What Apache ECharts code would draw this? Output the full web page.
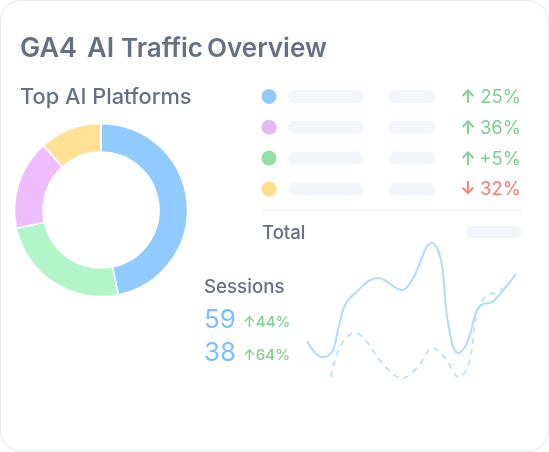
<!DOCTYPE html>
<html>
<head>
<meta charset="utf-8">
<style>html,body{margin:0;padding:0;background:#fff}#main{width:549px;height:452px}</style>
<script src="https://cdn.jsdelivr.net/npm/echarts@6/dist/echarts.min.js"></script>
</head>
<body>
<div id="main"></div>
<script>
var platforms = ['Platform A', 'Platform B', 'Platform C', 'Platform D'];
var platformShare = [46.8, 24.8, 16.8, 11.6];
var sliceColors = ['#90CAFF', '#B1F5C9', '#EFBDFD', '#FFE195'];
var dotColors = ['#90CAFF', '#E3B8FB', '#94DFA6', '#FFDF8E'];
var changeLabels = ['25%', '36%', '+5%', '32%'];
var changeArrows = ['↑', '↑', '↑', '↓'];
var changeColors = ['#7ACF8E', '#7ACF8E', '#7ACF8E', '#FA7B73'];
var sessionValues = ['59', '38'];
var sessionChanges = ['↑44%', '↑64%'];
// x / y, in chart units
var solidLine = [[7, 59], [22, 43], [32, 48], [38, 70], [45, 95], [53, 105], [78, 122], [102, 110], [112, 120], [132, 157], [141, 140], [148, 77], [158, 47], [167, 57], [177, 90], [183, 96], [192, 98], [205, 112], [216, 126]];
var dashedLine = [[31, 23], [40, 53], [55, 67], [67, 58], [82, 37], [102, 22], [117, 32], [133, 52], [145, 42], [159, 23], [169, 37], [177, 87], [185, 103], [197, 108], [208, 114]];

var TEXT = '#667085';
var FONT = 'Inter';
var PILL = '#F2F5FA';

var myChart = echarts.init(document.getElementById('main'));

function label(x, y, text, size, color, weight, align) {
    return {
        type: 'text', x: x, y: y, z: 5,
        style: {
            text: text, fill: color, fontSize: size, fontFamily: FONT,
            fontWeight: weight || 500, textAlign: align || 'left', textVerticalAlign: 'middle'
        }
    };
}
function pill(x, y, w, h) {
    return { type: 'rect', z: 4, shape: { x: x, y: y, width: w, height: h, r: h / 2 }, style: { fill: PILL } };
}

var graphics = [
    { type: 'rect', z: 0, shape: { x: 0.5, y: 0.5, width: 547.5, height: 450.5, r: 20 }, style: { fill: '#fff', stroke: '#E4E6EA', lineWidth: 1 } },
    label(20, 49, 'GA4', 27, TEXT, 600),
    label(87, 49, 'AI', 27, TEXT, 600),
    label(121, 49, 'Traffic', 26, TEXT, 600),
    label(207, 49, 'Overview', 26, TEXT, 600),
    label(20, 97, 'Top AI Platforms', 21.8, TEXT, 500),
    { type: 'rect', z: 4, shape: { x: 262, y: 209, width: 260, height: 1.5 }, style: { fill: '#F1F3F8' } },
    label(262, 233, 'Total', 18.5, TEXT, 500),
    pill(465, 226, 57, 12),
    label(204, 287, 'Sessions', 18.7, TEXT, 500)
];

platforms.forEach(function (name, i) {
    var y = 96.5 + i * 30.8;
    graphics.push({ type: 'circle', z: 4, shape: { cx: 269, cy: y, r: 7.5 }, style: { fill: dotColors[i] } });
    graphics.push(pill(288, y - 6.5, 75, 13));
    graphics.push(pill(389, y - 6.5, 46, 13));
    graphics.push(label(468, y + 1, changeArrows[i], 18, changeColors[i], 600, 'center'));
    graphics.push(label(521, y + 1, changeLabels[i], 18.5, changeColors[i], 400, 'right'));
});

sessionValues.forEach(function (v, i) {
    var y = 320 + i * 33.5;
    graphics.push(label(204, y, v, 26, '#7CC0FF', 400));
    graphics.push(label(243, y + 2, sessionChanges[i], 15, '#7ACF8E', 500));
});

var option = {
    backgroundColor: '#fff',
    animation: false,
    grid: { left: 300, top: 240, width: 220, height: 160 },
    xAxis: { type: 'value', min: 0, max: 220, show: false },
    yAxis: { type: 'value', min: 0, max: 160, show: false },
    graphic: graphics,
    series: [
        {
            type: 'pie',
            center: [101, 210],
            radius: [58, 86.5],
            startAngle: 90,
            label: { show: false },
            itemStyle: { borderColor: '#fff', borderWidth: 1.5 },
            data: platforms.map(function (name, i) {
                return { name: name, value: platformShare[i], itemStyle: { color: sliceColors[i] } };
            })
        },
        {
            type: 'line', data: solidLine, smooth: 0.4, showSymbol: false,
            lineStyle: { color: '#AEDBFF', width: 2 }
        },
        {
            type: 'line', data: dashedLine, smooth: 0.4, showSymbol: false,
            lineStyle: { color: '#B9E0FF', width: 1.8, type: [6, 5] }
        }
    ]
};
myChart.setOption(option);
</script>
</body>
</html>
